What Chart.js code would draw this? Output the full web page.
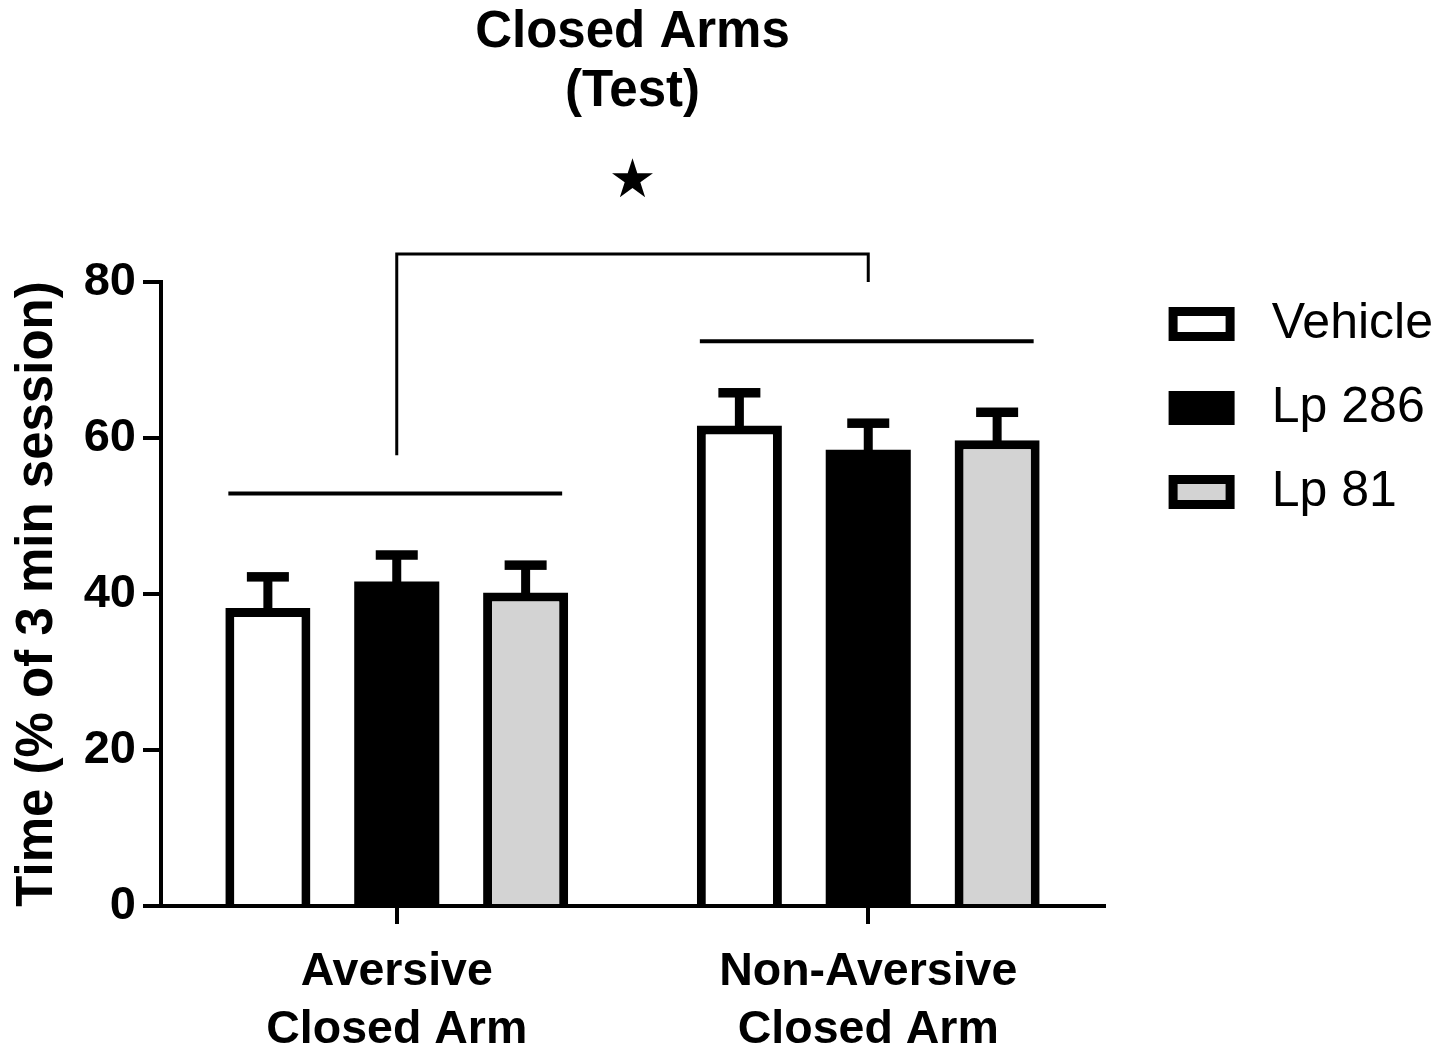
<!DOCTYPE html>
<html>
<head>
<meta charset="utf-8">
<script src="https://cdn.jsdelivr.net/npm/chart.js@4"></script>
<style>
html,body{margin:0;padding:0;background:#ffffff;}
canvas{display:block;}
</style>
</head>
<body>
<canvas id="c" width="1450" height="1053"></canvas>
<script>
// ---- data ----
const categories = [['Aversive', 'Closed Arm'], ['Non-Aversive', 'Closed Arm']];
const seriesNames = ['Vehicle', 'Lp 286', 'Lp 81'];
const vehicleMeans = [38.2, 61.6];
const lp286Means = [41.6, 58.5];
const lp81Means = [40.2, 59.7];
const vehicleSEM = [4.0, 4.2];
const lp286SEM = [3.4, 3.4];
const lp81SEM = [3.5, 3.6];
const yTickValues = [0, 20, 40, 60, 80];
const groupLineLevels = [52.9, 72.4];       // horizontal lines above each group
const bracketLevels = [57.8, 83.6, 80.0];   // left foot, top, right foot
const starLevel = 93.1;

// ---- styles ----
const FONT = "'Liberation Sans', Arial, Helvetica, sans-serif";
const fills = ['#ffffff', '#000000', '#d3d3d3'];
const borderWidths = [9, 0, 9];
const semSets = [vehicleSEM, lp286SEM, lp81SEM];
const meanSets = [vehicleMeans, lp286Means, lp81Means];
const PAD_RIGHT = 7;
const AXIS_RIGHT = 1104;

const annotations = {
  id: 'annotations',
  afterDatasetsDraw(chart) {
    const ctx = chart.ctx, y = chart.scales.y;
    ctx.save();
    ctx.fillStyle = '#000';
    chart.data.datasets.forEach((ds, di) => {
      const meta = chart.getDatasetMeta(di);
      meta.data.forEach((bar, i) => {
        const top = y.getPixelForValue(ds.data[i] + semSets[di][i]);
        const stemW = 9, capW = 42, capH = 9.5;
        ctx.fillRect(bar.x - stemW / 2, top, stemW, bar.y - top + 1);
        ctx.fillRect(bar.x - capW / 2, top - capH / 2, capW, capH);
      });
    });
    ctx.restore();
  },
  afterDraw(chart) {
    const ctx = chart.ctx, x = chart.scales.x, y = chart.scales.y;
    ctx.save();
    ctx.strokeStyle = '#000';
    ctx.fillStyle = '#000';
    ctx.lineCap = 'butt';
    // group lines
    ctx.lineWidth = 4;
    categories.forEach((c, i) => {
      const first = chart.getDatasetMeta(0).data[i];
      const last = chart.getDatasetMeta(chart.data.datasets.length - 1).data[i];
      const x0 = first.x - first.width / 2 + 3;
      const x1 = last.x + last.width / 2 - 6;
      const yy = y.getPixelForValue(groupLineLevels[i]);
      ctx.beginPath();
      ctx.moveTo(x0, yy);
      ctx.lineTo(x1, yy);
      ctx.stroke();
    });
    // bracket
    const bx0 = x.getPixelForValue(0), bx1 = x.getPixelForValue(1);
    ctx.lineWidth = 3;
    ctx.lineJoin = 'miter';
    ctx.beginPath();
    ctx.moveTo(bx0, y.getPixelForValue(bracketLevels[0]));
    ctx.lineTo(bx0, y.getPixelForValue(bracketLevels[1]));
    ctx.lineTo(bx1, y.getPixelForValue(bracketLevels[1]));
    ctx.lineTo(bx1, y.getPixelForValue(bracketLevels[2]));
    ctx.stroke();
    // star
    const cx = (bx0 + bx1) / 2, cy = y.getPixelForValue(starLevel);
    const R = 21.5, r = R * 0.382;
    ctx.beginPath();
    for (let k = 0; k < 10; k++) {
      const ang = -Math.PI / 2 + k * Math.PI / 5;
      const rad = (k % 2) ? r : R;
      ctx.lineTo(cx + rad * Math.cos(ang), cy + rad * Math.sin(ang));
    }
    ctx.closePath();
    ctx.fill();
    ctx.restore();
  }
};

new Chart(document.getElementById('c'), {
  type: 'bar',
  data: {
    labels: categories,
    datasets: seriesNames.map((name, i) => ({
      label: name,
      data: meanSets[i],
      backgroundColor: fills[i],
      borderColor: '#000000',
      borderWidth: borderWidths[i],
      borderSkipped: 'start',
      categoryPercentage: 0.82,
      barPercentage: 0.66
    }))
  },
  options: {
    responsive: false,
    devicePixelRatio: 1,
    animation: false,
    layout: { padding: { left: 0, right: PAD_RIGHT, top: 0, bottom: 0 } },
    plugins: {
      tooltip: { enabled: false },
      title: {
        display: true,
        text: ['Closed Arms', '(Test)'],
        fullSize: false,
        color: '#000',
        font: { family: FONT, size: 51, weight: 'bold', lineHeight: 1.157 },
        padding: { top: 3.5, bottom: 160.5 }
      },
      legend: {
        display: true,
        position: 'right',
        align: 'start',
        fullSize: true,
        maxWidth: 420,
        title: { display: true, text: '', font: { size: 10, lineHeight: 1 }, padding: { top: 255, bottom: 0 } },
        labels: {
          boxWidth: 57,
          boxHeight: 25,
          padding: 34,
          color: '#000',
          font: { family: FONT, size: 50, weight: 'normal' },
          generateLabels(chart) {
            const items = Chart.defaults.plugins.legend.labels.generateLabels(chart);
            items.forEach(it => {
              it.text = '\u2004' + it.text;
              it.lineWidth = 9;
              it.strokeStyle = '#000000';
            });
            return items;
          }
        }
      }
    },
    scales: {
      x: {
        type: 'category',
        offset: true,
        grid: { display: true, offset: false, drawOnChartArea: false, drawTicks: true, tickLength: 18, lineWidth: 4, color: '#000' },
        border: { display: true, width: 4, color: '#000' },
        ticks: {
          color: '#000',
          padding: 19.75,
          maxRotation: 0,
          autoSkip: false,
          font: { family: FONT, size: 46.5, weight: 'bold', lineHeight: 1.237 }
        },
        afterFit(s) { s.height = 147; }
      },
      y: {
        min: 0,
        max: 80,
        afterBuildTicks(s) { s.ticks = yTickValues.map(v => ({ value: v })); },
        grid: { display: true, drawOnChartArea: false, drawTicks: true, tickLength: 18, lineWidth: 4, color: '#000' },
        border: { display: true, width: 4, color: '#000' },
        ticks: {
          color: '#000',
          padding: 7,
          font: { family: FONT, size: 47, weight: 'bold' }
        },
        title: {
          display: true,
          text: 'Time (% of 3 min session)',
          color: '#000',
          font: { family: FONT, size: 51, weight: 'bold', lineHeight: 1.2 },
          padding: { top: 7.4, bottom: 0 }
        },
        afterFit(s) { s.width = 161; }
      },
      y2: {
        position: 'right',
        display: true,
        grid: { display: false, drawTicks: false },
        border: { display: false },
        ticks: { display: false },
        afterFit(s) {
          const lw = s.chart.legend ? s.chart.legend.width : 0;
          s.width = Math.max(0, s.chart.width - AXIS_RIGHT - PAD_RIGHT - lw);
        }
      }
    }
  },
  plugins: [annotations]
});
</script>
</body>
</html>
